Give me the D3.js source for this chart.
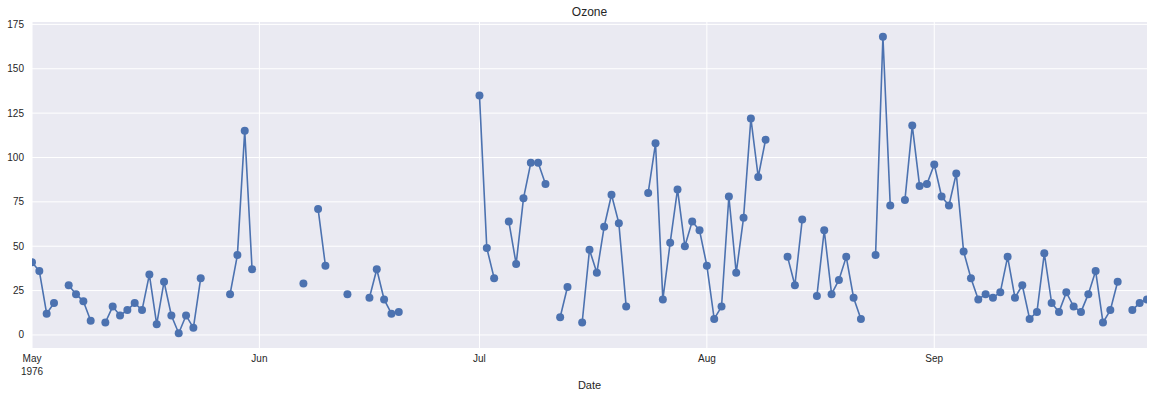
<!DOCTYPE html>
<html>
<head>
<meta charset="utf-8">
<script src="https://cdn.jsdelivr.net/npm/d3@7"></script>
<style>
  body { margin: 0; background: #fff; }
  text { font-family: "Liberation Sans", Arial, sans-serif; fill: #262626; }
</style>
</head>
<body>
<div id="chart"></div>
<script>
// daily ozone readings, null = missing
var may = [41, 36, 12, 18, null, 28, 23, 19, 8, null, 7, 16, 11, 14, 18, 14, 34, 6, 30, 11, 1, 11, 4, 32, null, null, null, 23, 45, 115, 37];
var jun = [null, null, null, null, null, null, 29, null, 71, 39, null, null, 23, null, null, 21, 37, 20, 12, 13, null, null, null, null, null, null, null, null, null, null];
var jul = [135, 49, 32, null, 64, 40, 77, 97, 97, 85, null, 10, 27, null, 7, 48, 35, 61, 79, 63, 16, null, null, 80, 108, 20, 52, 82, 50, 64, 59];
var aug = [39, 9, 16, 78, 35, 66, 122, 89, 110, null, null, 44, 28, 65, null, 22, 59, 23, 31, 44, 21, 9, null, 45, 168, 73, null, 76, 118, 84, 85];
var sep = [96, 78, 73, 91, 47, 32, 20, 23, 21, 24, 44, 21, 28, 9, 13, 46, 18, 13, 24, 16, 13, 23, 36, 7, 14, 30, null, 14, 18, 20];
var yTicks = [0, 25, 50, 75, 100, 125, 150, 175];
var monthTicks = ['May', 'Jun', 'Jul', 'Aug', 'Sep'];

var width = 1154, height = 398;
var margin = {top: 22, right: 7, bottom: 50, left: 32};

var data = [];
[may, jun, jul, aug, sep].forEach(function(arr, m) {
  arr.forEach(function(v, i) {
    data.push({date: new Date(1976, 4 + m, i + 1), value: v});
  });
});

var svg = d3.select('#chart').append('svg')
  .attr('width', width).attr('height', height);

var x = d3.scaleTime()
  .domain([new Date(1976, 4, 1), new Date(1976, 8, 30)])
  .range([margin.left, width - margin.right]);

var y = d3.scaleLinear()
  .domain([-7.35, 176.35])
  .range([height - margin.bottom, margin.top]);

// clip region = axes area
svg.append('clipPath').attr('id', 'clip')
  .append('rect')
  .attr('x', margin.left).attr('y', margin.top)
  .attr('width', width - margin.right - margin.left)
  .attr('height', height - margin.bottom - margin.top);

// background
svg.append('rect')
  .attr('x', margin.left).attr('y', margin.top)
  .attr('width', width - margin.right - margin.left)
  .attr('height', height - margin.bottom - margin.top)
  .attr('fill', '#EAEAF2');

// grid
var g = svg.append('g');
g.selectAll('.hg').data(yTicks).enter().append('line')
  .attr('x1', margin.left).attr('x2', width - margin.right)
  .attr('y1', function(d) { return y(d); }).attr('y2', function(d) { return y(d); })
  .attr('stroke', '#fff').attr('stroke-width', 1);

var monthDates = monthTicks.map(function(m, i) { return new Date(1976, 4 + i, 1); });
g.selectAll('.vg').data(monthDates).enter().append('line')
  .attr('y1', margin.top).attr('y2', height - margin.bottom)
  .attr('x1', function(d) { return x(d); }).attr('x2', function(d) { return x(d); })
  .attr('stroke', '#fff').attr('stroke-width', 1);

// y axis labels
svg.selectAll('.yl').data(yTicks).enter().append('text')
  .attr('x', margin.left - 8)
  .attr('y', function(d) { return y(d); })
  .attr('dy', '0.35em')
  .attr('text-anchor', 'end')
  .attr('font-size', 10)
  .text(function(d) { return d; });

// x axis labels
svg.selectAll('.xl').data(monthDates).enter().append('text')
  .attr('x', function(d) { return x(d); })
  .attr('y', 362)
  .attr('text-anchor', 'middle')
  .attr('font-size', 10)
  .text(function(d, i) { return monthTicks[i]; });

svg.append('text')
  .attr('x', x(monthDates[0])).attr('y', 375)
  .attr('text-anchor', 'middle').attr('font-size', 10)
  .text('1976');

svg.append('text')
  .attr('x', (margin.left + width - margin.right) / 2).attr('y', 389)
  .attr('text-anchor', 'middle').attr('font-size', 11)
  .text('Date');

svg.append('text')
  .attr('x', (margin.left + width - margin.right) / 2).attr('y', 16)
  .attr('text-anchor', 'middle').attr('font-size', 12)
  .text('Ozone');

// line + markers
var line = d3.line()
  .defined(function(d) { return d.value != null; })
  .x(function(d) { return x(d.date); })
  .y(function(d) { return y(d.value); });

var plot = svg.append('g').attr('clip-path', 'url(#clip)');

plot.append('path')
  .datum(data)
  .attr('d', line)
  .attr('fill', 'none')
  .attr('stroke', '#4C72B0')
  .attr('stroke-width', 1.6);

plot.selectAll('circle')
  .data(data.filter(function(d) { return d.value != null; }))
  .enter().append('circle')
  .attr('cx', function(d) { return x(d.date); })
  .attr('cy', function(d) { return y(d.value); })
  .attr('r', 4)
  .attr('fill', '#4C72B0');
</script>
</body>
</html>
